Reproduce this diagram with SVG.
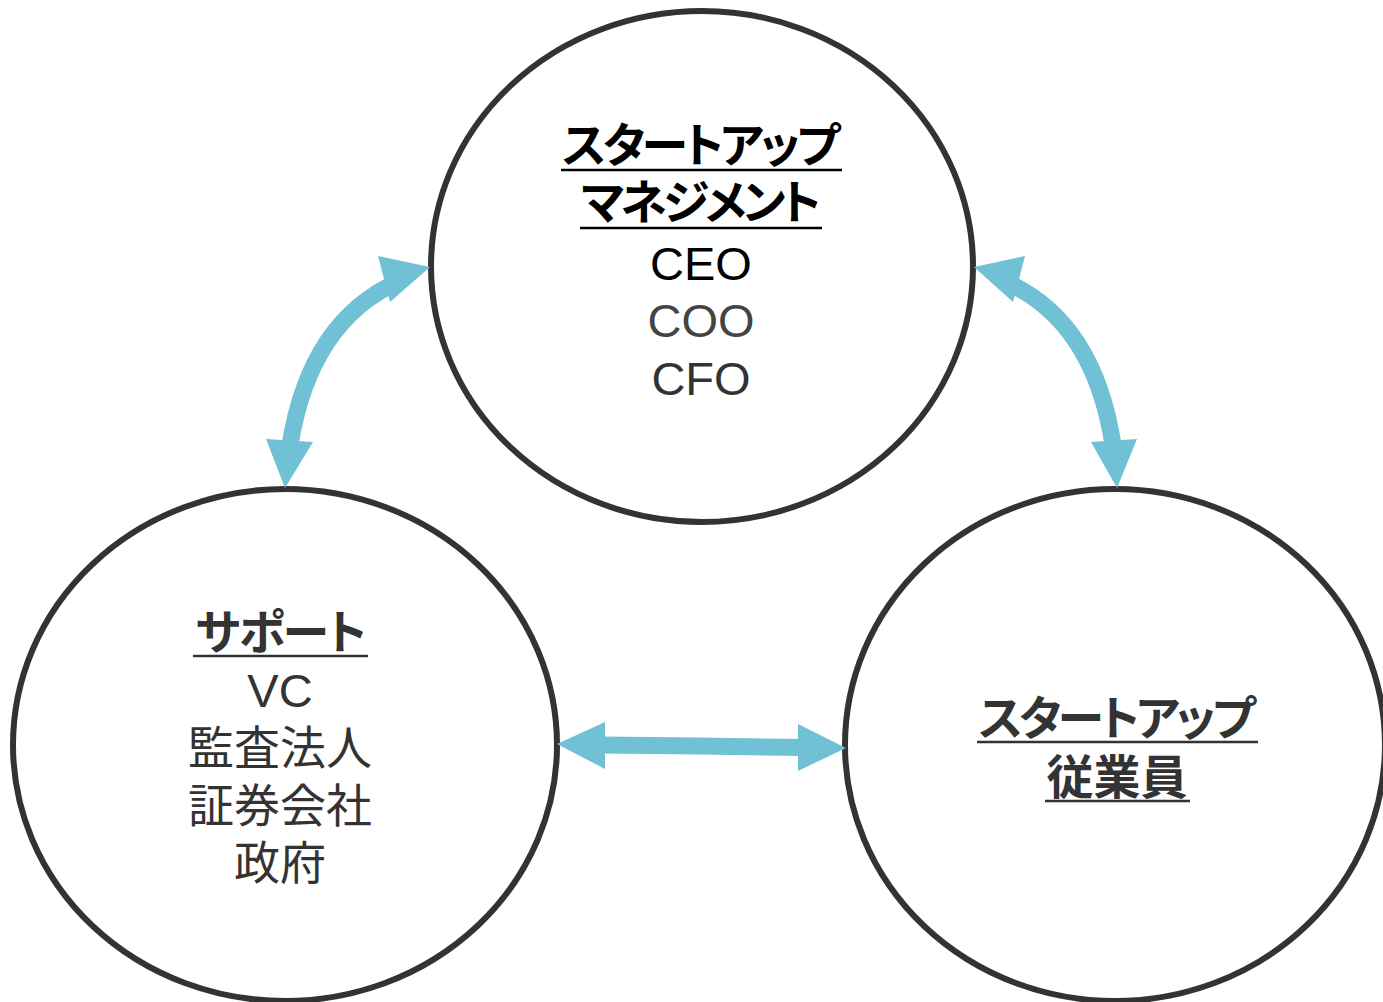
<svg xmlns="http://www.w3.org/2000/svg" width="1383" height="1002" viewBox="0 0 1383 1002">
<style>
.ring{fill:#fff;stroke:#333;stroke-width:6}
.shaft{fill:none;stroke:#71c1d6;stroke-width:17}
.head{fill:#71c1d6}
text{font-family:"Liberation Sans","Noto Sans CJK JP",sans-serif;text-anchor:middle;font-size:46px}
.lat{font-size:47px}
.ttl{font-weight:700;font-feature-settings:"palt";font-size:47px}
.ul{stroke-width:2.5}
</style>
<rect width="1383" height="1002" fill="#fff"/>
<g id="node-management">
<ellipse class="ring" cx="702" cy="266.5" rx="271" ry="255.5"/>
<text class="ttl" x="701" y="162" fill="#000" textLength="278" lengthAdjust="spacing">スタートアップ</text>
<line class="ul" x1="561" y1="170" x2="842" y2="170" stroke="#000"/>
<text class="ttl" x="701" y="219" fill="#000" textLength="240" lengthAdjust="spacing">マネジメント</text>
<line class="ul" x1="580" y1="228" x2="822" y2="228" stroke="#000"/>
<text class="lat" x="701" y="280" fill="#000">CEO</text>
<text class="lat" x="701" y="337" fill="#444">COO</text>
<text class="lat" x="701" y="395" fill="#333">CFO</text>
</g>
<g id="node-support">
<ellipse class="ring" cx="285" cy="745" rx="272" ry="256"/>
<text class="ttl" x="281" y="649" fill="#333" textLength="171" lengthAdjust="spacing">サポート</text>
<line class="ul" x1="193" y1="656" x2="368" y2="656" stroke="#333"/>
<text class="lat" x="280" y="707" fill="#333">VC</text>
<text x="280" y="764" fill="#333">監査法人</text>
<text x="280" y="822" fill="#333">証券会社</text>
<text x="280" y="879" fill="#333">政府</text>
</g>
<g id="node-employees">
<ellipse class="ring" cx="1115" cy="745" rx="270" ry="256"/>
<text class="ttl" x="1117" y="735" fill="#333" textLength="277" lengthAdjust="spacing">スタートアップ</text>
<line class="ul" x1="977" y1="742" x2="1258" y2="742" stroke="#333"/>
<text class="ttl" x="1117" y="794" fill="#333">従業員</text>
<line class="ul" x1="1045" y1="801" x2="1190" y2="801" stroke="#333"/>
</g>
<g id="connectors">
<path class="shaft" d="M290 445 Q310 320 400 281"/>
<polygon class="head" points="430,267 378,256 390,302"/>
<polygon class="head" points="285,488 266,439 313,442"/>
<path class="shaft" d="M1113 445 Q1094 320 1004 281"/>
<polygon class="head" points="974,267 1025,256 1013,302"/>
<polygon class="head" points="1117,488 1091,442 1137,439"/>
<path class="shaft" d="M600 745 L700 746 L802 747.5"/>
<polygon class="head" points="557,744 605,722 605,769"/>
<polygon class="head" points="846,748 798,724 798,771"/>
</g>
</svg>
